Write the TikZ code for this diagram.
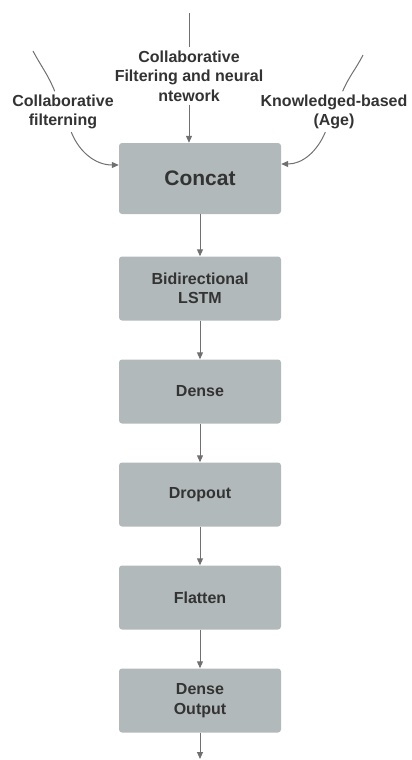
\documentclass[tikz,border=0pt]{standalone}
\usepackage{fontspec}
\setmainfont{Liberation Sans}
\usepackage{xcolor}
\usetikzlibrary{arrows.meta,positioning}

\definecolor{layergray}{RGB}{178,185,186}
\definecolor{textgray}{RGB}{51,51,51}
\definecolor{linegray}{RGB}{112,112,112}

\begin{document}
\begin{tikzpicture}[x=1pt, y=1pt, node distance=103pt,
    layer/.style={fill=layergray, rounded corners=3pt, minimum width=162pt, minimum height=64pt,
        align=center, text=textgray, font=\fontsize{16}{19.5}\selectfont\bfseries},
    source/.style={align=center, text=textgray, inner sep=3pt, font=\fontsize{16}{19.5}\selectfont\bfseries},
    link/.style={draw=linegray, line width=1pt},
    flow/.style={link, -{Triangle[length=7pt,width=6pt]}}]

    \useasboundingbox (0,0) rectangle (412,-760);

    \node[layer, minimum height=71pt, font=\fontsize{21}{25}\selectfont\bfseries] (concat) at (200,-178.5) {Concat};
    \node[layer, node distance=110pt, below of=concat] (lstm) {Bidirectional\\LSTM};
    \node[layer, below of=lstm] (dense) {Dense};
    \node[layer, below of=dense] (dropout) {Dropout};
    \node[layer, below of=dropout] (flatten) {Flatten};
    \node[layer, below of=flatten] (output) {Dense\\Output};
    \coordinate (end) at (200,-759);

    \node[source] (cf) at (63,-111.7) {Collaborative\\filterning};
    \node[source] (cfnn) at (189,-76) {Collaborative\\Filtering and neural\\ntework};
    \node[source] (age) at (334,-111.7) {Knowledged-based\\(Age)};
    \coordinate (cfTop) at (33,-51);
    \coordinate (cfnnTop) at (189,-13);
    \coordinate (ageTop) at (363,-55);

    \draw[link] (cfTop) to[out=-62, in=112] (cf);
    \draw[flow] (cf) to[out=-68, in=180] ([yshift=13.5pt]concat.west);
    \draw[link] (cfnnTop) -- (cfnn);
    \draw[flow] (cfnn) -- (cfnn |- concat.north);
    \draw[link] (ageTop) to[out=-117, in=67] (age);
    \draw[flow] (age) to[out=-113, in=0] ([yshift=14.5pt]concat.east);

    \draw[flow] (concat) -- (lstm);
    \draw[flow] (lstm) -- (dense);
    \draw[flow] (dense) -- (dropout);
    \draw[flow] (dropout) -- (flatten);
    \draw[flow] (flatten) -- (output);
    \draw[flow] (output) -- (end);

\end{tikzpicture}
\end{document}
